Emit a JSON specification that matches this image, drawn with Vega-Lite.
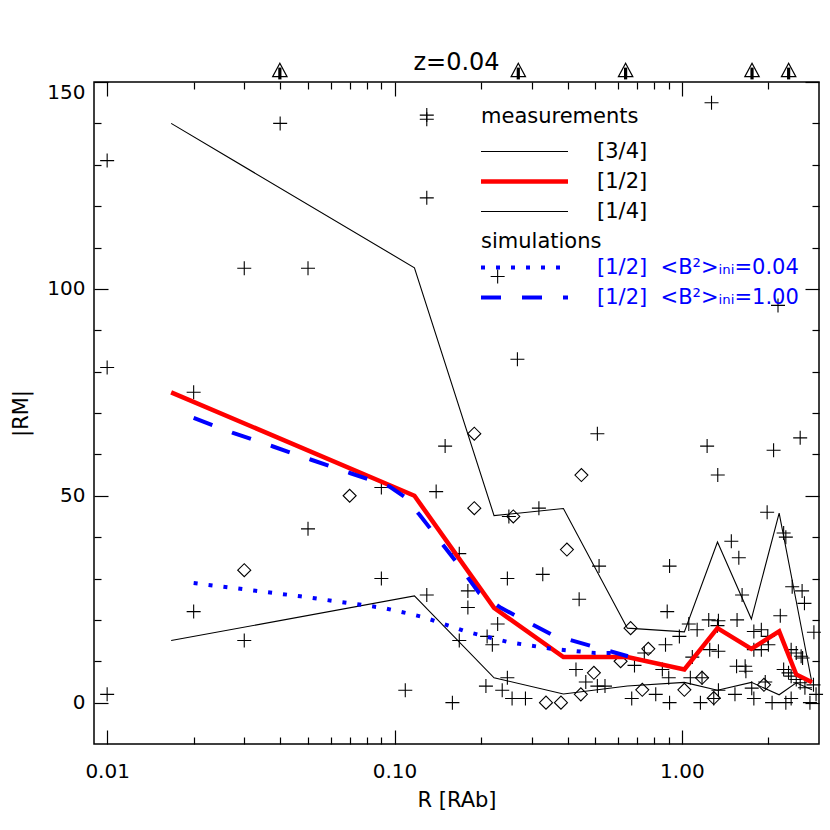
{
  "$schema": "https://vega.github.io/schema/vega-lite/v6.json",
  "width": 725,
  "height": 662,
  "autosize": {"type": "none"},
  "padding": {"left": 94, "top": 82, "right": 11, "bottom": 86},
  "background": "white",
  "title": {"text": "z=0.04", "fontSize": 24, "fontWeight": "normal", "color": "black", "anchor": "middle", "frame": "group", "baseline": "alphabetic", "offset": 12, "dy": 45},
  "datasets": {
    "meas": [
      {"R": 0.0167, "RM": 140, "q": "[3/4]"}, {"R": 0.1173, "RM": 105.1, "q": "[3/4]"}, {"R": 0.222, "RM": 45.2, "q": "[3/4]"}, {"R": 0.387, "RM": 46.9, "q": "[3/4]"}, {"R": 0.646, "RM": 18.0, "q": "[3/4]"}, {"R": 1.02, "RM": 17.1, "q": "[3/4]"}, {"R": 1.33, "RM": 38.8, "q": "[3/4]"}, {"R": 1.745, "RM": 20.2, "q": "[3/4]"}, {"R": 2.18, "RM": 45.8, "q": "[3/4]"}, {"R": 2.5, "RM": 24.5, "q": "[3/4]"}, {"R": 2.835, "RM": 4.8, "q": "[3/4]"},
      {"R": 0.0167, "RM": 75, "q": "[1/2]"}, {"R": 0.1173, "RM": 50, "q": "[1/2]"}, {"R": 0.222, "RM": 22.9, "q": "[1/2]"}, {"R": 0.387, "RM": 11, "q": "[1/2]"}, {"R": 0.646, "RM": 11, "q": "[1/2]"}, {"R": 1.02, "RM": 8, "q": "[1/2]"}, {"R": 1.33, "RM": 18, "q": "[1/2]"}, {"R": 1.745, "RM": 13, "q": "[1/2]"}, {"R": 2.18, "RM": 17.2, "q": "[1/2]"}, {"R": 2.5, "RM": 6.8, "q": "[1/2]"}, {"R": 2.835, "RM": 4.9, "q": "[1/2]"},
      {"R": 0.0167, "RM": 15, "q": "[1/4]"}, {"R": 0.1173, "RM": 25.8, "q": "[1/4]"}, {"R": 0.222, "RM": 6, "q": "[1/4]"}, {"R": 0.387, "RM": 2.1, "q": "[1/4]"}, {"R": 0.646, "RM": 4, "q": "[1/4]"}, {"R": 1.02, "RM": 4.9, "q": "[1/4]"}, {"R": 1.33, "RM": 3, "q": "[1/4]"}, {"R": 1.745, "RM": 4.9, "q": "[1/4]"}, {"R": 2.18, "RM": 1.9, "q": "[1/4]"}, {"R": 2.5, "RM": 4.8, "q": "[1/4]"}, {"R": 2.835, "RM": 3.1, "q": "[1/4]"}
    ],
    "sim": [
      {"R": 0.02, "RM": 28.9, "s": "a"}, {"R": 0.047, "RM": 25.7, "s": "a"}, {"R": 0.0912, "RM": 22.9, "s": "a"}, {"R": 0.1155, "RM": 21.3, "s": "a"}, {"R": 0.127, "RM": 20.6, "s": "a"}, {"R": 0.177, "RM": 17.2, "s": "a"}, {"R": 0.25, "RM": 14.6, "s": "a"}, {"R": 0.353, "RM": 13.0, "s": "a"}, {"R": 0.5, "RM": 12.0, "s": "a"}, {"R": 0.57, "RM": 12.0, "s": "a"},
      {"R": 0.02, "RM": 68.8, "s": "b"}, {"R": 0.0274, "RM": 65.2, "s": "b"}, {"R": 0.0378, "RM": 61.9, "s": "b"}, {"R": 0.0513, "RM": 58.7, "s": "b"}, {"R": 0.0699, "RM": 55.5, "s": "b"}, {"R": 0.0961, "RM": 52.2, "s": "b"}, {"R": 0.108, "RM": 49.8, "s": "b"}, {"R": 0.1222, "RM": 45.4, "s": "b"}, {"R": 0.1637, "RM": 34.1, "s": "b"}, {"R": 0.197, "RM": 26.5, "s": "b"}, {"R": 0.2346, "RM": 22.9, "s": "b"}, {"R": 0.3533, "RM": 16.4, "s": "b"}, {"R": 0.489, "RM": 13.6, "s": "b"}, {"R": 0.649, "RM": 11.2, "s": "b"}
    ],
    "cross": [
      {"R": 0.01, "RM": 131}, {"R": 0.01, "RM": 81}, {"R": 0.01, "RM": 2}, {"R": 0.02, "RM": 75}, {"R": 0.02, "RM": 22}, {"R": 0.03, "RM": 105}, {"R": 0.03, "RM": 15}, {"R": 0.04, "RM": 140}, {"R": 0.05, "RM": 105}, {"R": 0.05, "RM": 42},
      {"R": 0.09, "RM": 52}, {"R": 0.09, "RM": 30}, {"R": 0.109, "RM": 3}, {"R": 0.1295, "RM": 142}, {"R": 0.1295, "RM": 141}, {"R": 0.1295, "RM": 122}, {"R": 0.1396, "RM": 51}, {"R": 0.1295, "RM": 26}, {"R": 0.15, "RM": 62}, {"R": 0.159, "RM": 0},
      {"R": 0.168, "RM": 36}, {"R": 0.168, "RM": 15}, {"R": 0.18, "RM": 27}, {"R": 0.18, "RM": 23}, {"R": 0.208, "RM": 4}, {"R": 0.21, "RM": 16}, {"R": 0.219, "RM": 14}, {"R": 0.2285, "RM": 103}, {"R": 0.2285, "RM": 19}, {"R": 0.237, "RM": 3},
      {"R": 0.247, "RM": 30}, {"R": 0.247, "RM": 6}, {"R": 0.25, "RM": 45}, {"R": 0.2565, "RM": 1}, {"R": 0.2677, "RM": 83}, {"R": 0.2855, "RM": 1}, {"R": 0.318, "RM": 47}, {"R": 0.328, "RM": 31}, {"R": 0.428, "RM": 8}, {"R": 0.439, "RM": 25},
      {"R": 0.463, "RM": 5}, {"R": 0.508, "RM": 65}, {"R": 0.515, "RM": 33}, {"R": 0.508, "RM": 4}, {"R": 0.54, "RM": 4}, {"R": 0.669, "RM": 1}, {"R": 0.684, "RM": 9}, {"R": 0.74, "RM": 12}, {"R": 0.811, "RM": 2}, {"R": 0.855, "RM": 8},
      {"R": 0.877, "RM": 14}, {"R": 0.889, "RM": 22}, {"R": 0.9, "RM": 6}, {"R": 0.906, "RM": 0}, {"R": 0.906, "RM": 33}, {"R": 0.98, "RM": 16}, {"R": 1.057, "RM": 19}, {"R": 1.07, "RM": 6}, {"R": 1.087, "RM": 11}, {"R": 1.13, "RM": 17.6},
      {"R": 1.16, "RM": 0}, {"R": 1.175, "RM": 6}, {"R": 1.224, "RM": 62}, {"R": 1.24, "RM": 20}, {"R": 1.25, "RM": 12.8}, {"R": 1.268, "RM": 145}, {"R": 1.291, "RM": 1}, {"R": 1.34, "RM": 19.8}, {"R": 1.33, "RM": 18.6}, {"R": 1.333, "RM": 55},
      {"R": 1.34, "RM": 12.4}, {"R": 1.34, "RM": 3}, {"R": 1.486, "RM": 39}, {"R": 1.53, "RM": 2}, {"R": 1.55, "RM": 8.8}, {"R": 1.556, "RM": 20}, {"R": 1.578, "RM": 35}, {"R": 1.62, "RM": 26}, {"R": 1.66, "RM": 8.8}, {"R": 1.67, "RM": 7.6},
      {"R": 1.75, "RM": 3.5}, {"R": 1.78, "RM": 17.2}, {"R": 1.78, "RM": 12.8}, {"R": 1.78, "RM": 1}, {"R": 1.89, "RM": 17.6}, {"R": 1.89, "RM": 12.8}, {"R": 1.95, "RM": 5}, {"R": 1.98, "RM": 46}, {"R": 1.99, "RM": 16}, {"R": 2.0, "RM": 14},
      {"R": 2.085, "RM": 61}, {"R": 2.06, "RM": 0}, {"R": 2.16, "RM": 96}, {"R": 2.2, "RM": 21}, {"R": 2.26, "RM": 41}, {"R": 2.3, "RM": 40}, {"R": 2.26, "RM": 8}, {"R": 2.3, "RM": 0}, {"R": 2.35, "RM": 7.2}, {"R": 2.4, "RM": 12.8},
      {"R": 2.4, "RM": 1}, {"R": 2.42, "RM": 28}, {"R": 2.4, "RM": 6.4}, {"R": 2.5, "RM": 12}, {"R": 2.5, "RM": 5.6}, {"R": 2.58, "RM": 64}, {"R": 2.6, "RM": 11.2}, {"R": 2.62, "RM": 27}, {"R": 2.63, "RM": 10.8}, {"R": 2.67, "RM": 24},
      {"R": 2.58, "RM": 4.8}, {"R": 2.68, "RM": 3.6}, {"R": 2.87, "RM": 4.3}, {"R": 2.93, "RM": 2}, {"R": 2.79, "RM": 0}, {"R": 2.88, "RM": 17}
    ],
    "diamond": [
      {"R": 0.03, "RM": 32}, {"R": 0.0698, "RM": 50}, {"R": 0.1895, "RM": 65}, {"R": 0.1895, "RM": 47}, {"R": 0.259, "RM": 45}, {"R": 0.3366, "RM": 0}, {"R": 0.3795, "RM": 0}, {"R": 0.398, "RM": 37}, {"R": 0.445, "RM": 2}, {"R": 0.447, "RM": 55},
      {"R": 0.494, "RM": 7.2}, {"R": 0.612, "RM": 10}, {"R": 0.663, "RM": 18}, {"R": 0.728, "RM": 3.1}, {"R": 0.764, "RM": 13}, {"R": 1.02, "RM": 3.1}, {"R": 1.175, "RM": 6}, {"R": 1.291, "RM": 1.1}, {"R": 1.93, "RM": 4.3}
    ],
    "above": [{"R": 0.0399}, {"R": 0.2696}, {"R": 0.637}, {"R": 1.754}, {"R": 2.352}]
  },
  "layer": [
    {
      "data": {"name": "cross"},
      "mark": {"type": "point", "shape": "M-1,0H1M0,-1V1", "size": 196, "filled": false, "color": "black", "strokeWidth": 1.1, "opacity": 1},
      "encoding": {
        "x": {"field": "R", "type": "quantitative", "scale": {"type": "log", "domain": [0.009, 3], "nice": false},
              "axis": {"orient": "bottom", "values": [0.02, 0.03, 0.04, 0.05, 0.06, 0.07, 0.08, 0.09, 0.2, 0.3, 0.4, 0.5, 0.6, 0.7, 0.8, 0.9, 2], "labels": false, "tickSize": -7, "title": null}},
        "y": {"field": "RM", "type": "quantitative", "scale": {"domain": [-10, 150], "nice": false, "zero": false},
              "axis": {"orient": "left", "values": [10, 20, 30, 40, 60, 70, 80, 90, 110, 120, 130, 140], "labels": false, "tickSize": -7, "title": null}}
      }
    },
    {
      "data": {"name": "diamond"},
      "mark": {"type": "point", "shape": "diamond", "size": 169, "filled": false, "color": "black", "strokeWidth": 1.1, "opacity": 1},
      "encoding": {
        "x": {"field": "R", "type": "quantitative", "scale": {"type": "log", "domain": [0.009, 3], "nice": false},
              "axis": {"orient": "top", "values": [0.01, 0.1, 1], "labels": false, "tickSize": -14, "title": null}},
        "y": {"field": "RM", "type": "quantitative", "scale": {"domain": [-10, 150], "nice": false, "zero": false},
              "axis": {"orient": "right", "values": [0, 50, 100, 150], "labels": false, "tickSize": -14, "title": null}}
      }
    },
    {
      "data": {"name": "above"},
      "mark": {"type": "point", "shape": "M0,-0.935L0.36,-0.265L-0.36,-0.265Z", "size": 1600, "filled": false, "color": "black", "strokeWidth": 1.2, "opacity": 1, "clip": false},
      "encoding": {
        "x": {"field": "R", "type": "quantitative", "scale": {"type": "log", "domain": [0.009, 3], "nice": false},
              "axis": {"orient": "top", "values": [0.02, 0.03, 0.04, 0.05, 0.06, 0.07, 0.08, 0.09, 0.2, 0.3, 0.4, 0.5, 0.6, 0.7, 0.8, 0.9, 2], "labels": false, "tickSize": -7, "title": null}},
        "y": {"datum": 150, "type": "quantitative", "scale": {"domain": [-10, 150], "nice": false, "zero": false},
              "axis": {"orient": "right", "values": [10, 20, 30, 40, 60, 70, 80, 90, 110, 120, 130, 140], "labels": false, "tickSize": -7, "title": null}}
      }
    },
    {
      "data": {"name": "above"},
      "mark": {"type": "point", "shape": "M-0.08,-0.72L0.08,-0.72L0.08,-0.13L-0.08,-0.13Z", "size": 1600, "filled": true, "color": "black", "opacity": 1, "clip": false},
      "encoding": {
        "x": {"field": "R", "type": "quantitative", "scale": {"type": "log", "domain": [0.009, 3], "nice": false}, "axis": null},
        "y": {"datum": 150, "type": "quantitative", "scale": {"domain": [-10, 150], "nice": false, "zero": false}, "axis": null}
      }
    },
    {
      "data": {"name": "meas"},
      "mark": {"type": "line"},
      "encoding": {
        "x": {"field": "R", "type": "quantitative", "scale": {"type": "log", "domain": [0.009, 3], "nice": false},
              "axis": {"orient": "bottom", "values": [0.01, 0.1, 1], "format": ".2f", "ticks": false, "tickSize": 0, "labelPadding": 17, "labelFlush": false, "title": "R [RAb]", "titlePadding": 8}},
        "y": {"field": "RM", "type": "quantitative", "scale": {"domain": [-10, 150], "nice": false, "zero": false},
              "axis": {"orient": "left", "values": [0, 50, 100, 150], "format": "d", "ticks": false, "tickSize": 0, "labelPadding": 9, "labelFlush": true, "title": "|RM|", "titlePadding": 15}},
        "color": {"field": "q", "type": "nominal", "scale": {"type": "ordinal", "domain": ["[3/4]", "[1/2]", "[1/4]"], "range": ["black", "#ff0000", "black"]},
                  "legend": {"title": "measurements", "orient": "none", "legendX": 387, "legendY": 24, "symbolType": "M-5.4375,0H5.4375", "symbolSize": 256, "symbolOffset": 33, "labelOffset": 62, "titlePadding": 14, "rowPadding": 8, "padding": 0, "labelColor": "black"}},
        "strokeWidth": {"field": "q", "type": "nominal", "scale": {"type": "ordinal", "domain": ["[3/4]", "[1/2]", "[1/4]"], "range": [1.1, 4.5, 1.1]},
                  "legend": {"title": "measurements", "orient": "none", "legendX": 387, "legendY": 24, "symbolType": "M-5.4375,0H5.4375", "symbolSize": 256, "symbolOffset": 33, "labelOffset": 62, "titlePadding": 14, "rowPadding": 8, "padding": 0, "labelColor": "black"}}
      }
    },
    {
      "data": {"name": "sim"},
      "mark": {"type": "line", "color": "#0000ff", "strokeWidth": 4},
      "encoding": {
        "x": {"field": "R", "type": "quantitative", "scale": {"type": "log", "domain": [0.009, 3], "nice": false},
              "axis": {"orient": "bottom", "values": [0.01, 0.1, 1], "labels": false, "tickSize": -14, "title": null}},
        "y": {"field": "RM", "type": "quantitative", "scale": {"domain": [-10, 150], "nice": false, "zero": false},
              "axis": {"orient": "left", "values": [0, 50, 100, 150], "labels": false, "tickSize": -14, "title": null}},
        "strokeDash": {"field": "s", "type": "nominal", "scale": {"domain": ["a", "b"], "range": [[4, 11], [20, 21]]},
                  "legend": {"title": "simulations", "orient": "none", "legendX": 387, "legendY": 149, "symbolType": "M-5.4375,0H5.4375", "symbolSize": 256, "symbolOffset": 33, "labelOffset": 62, "titlePadding": 5, "rowPadding": 8, "padding": 0, "labelColor": "#0000ff", "symbolStrokeColor": "#0000ff", "symbolStrokeWidth": 4,
                             "labelExpr": "datum.value == 'a' ? '[1/2]\u00a0\u00a0<B²>ᵢₙᵢ=0.04' : '[1/2]\u00a0\u00a0<B²>ᵢₙᵢ=1.00'"}}
      }
    }
  ],
  "resolve": {"axis": {"x": "independent", "y": "independent"}},
  "config": {
    "font": "DejaVu Sans",
    "view": {"stroke": "black", "strokeWidth": 1.5},
    "axis": {"domain": false, "grid": false, "tickColor": "black", "tickWidth": 1.2, "labelColor": "black", "titleColor": "black", "titleFontWeight": "normal", "labelFontSize": 20, "titleFontSize": 21, "labelFont": "DejaVu Sans", "titleFont": "DejaVu Sans"},
    "legend": {"labelFontSize": 21, "titleFontSize": 21, "titleFontWeight": "normal", "titleColor": "black", "labelLimit": 400, "titleLimit": 400, "labelFont": "DejaVu Sans", "titleFont": "DejaVu Sans"}
  }
}
